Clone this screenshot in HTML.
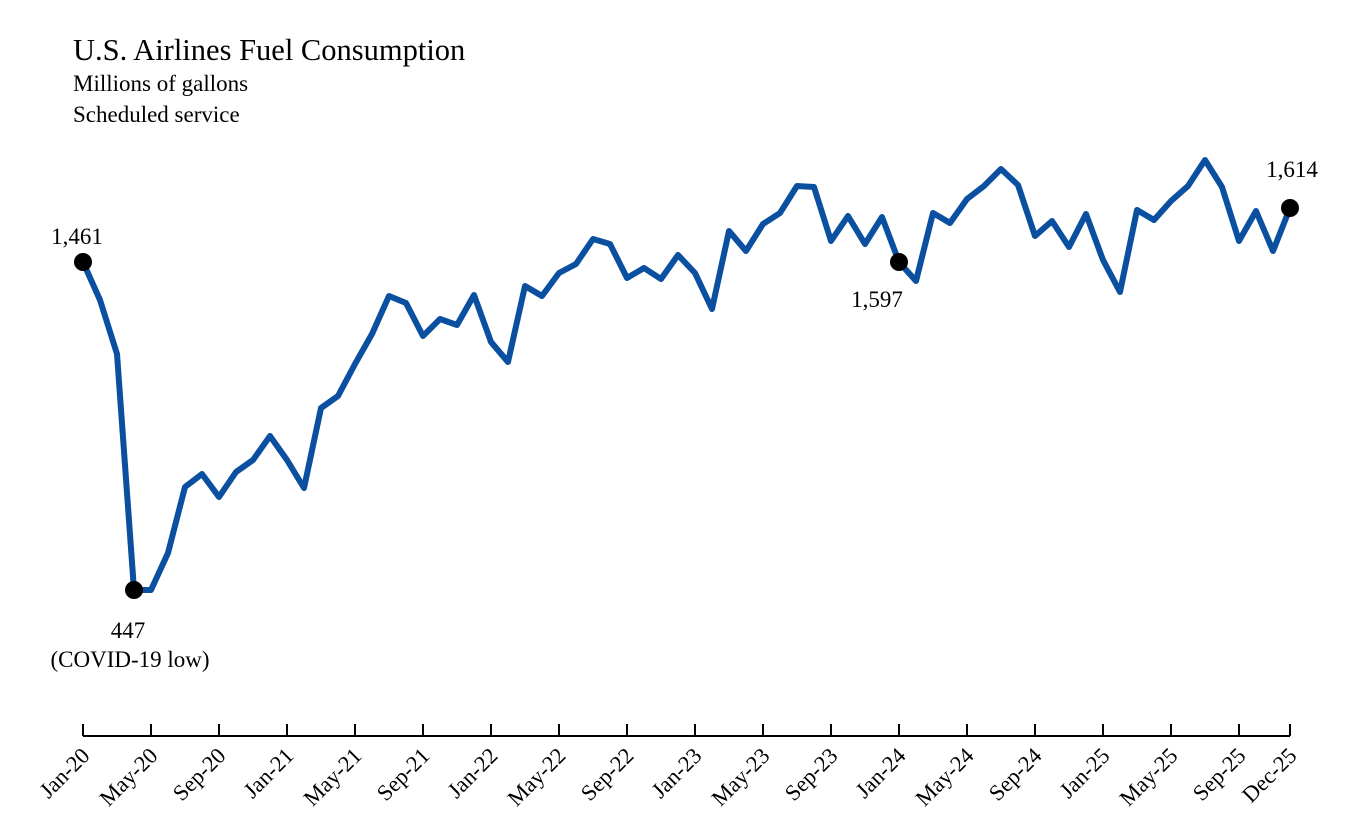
<!DOCTYPE html>
<html><head><style>
html,body{margin:0;padding:0;background:#fff;}
svg{display:block;font-family:"Liberation Serif",serif;}
</style></head><body>
<svg width="1347" height="835" viewBox="0 0 1347 835">
<text x="73" y="60" font-size="30.5">U.S. Airlines Fuel Consumption</text>
<text x="73" y="91" font-size="23">Millions of gallons</text>
<text x="73" y="122" font-size="23">Scheduled service</text>
<line x1="83" y1="736" x2="1290" y2="736" stroke="#000" stroke-width="2"/>
<g stroke="#000" stroke-width="2" id="ticks"></g>
<polyline id="ln" fill="none" stroke="#0b4fa0" stroke-width="6" stroke-linejoin="round" stroke-linecap="round"/>
<g id="lab" font-size="22.5"></g>
<circle cx="83" cy="262" r="9" fill="#000"/>
<circle cx="134" cy="590" r="9" fill="#000"/>
<circle cx="899" cy="262" r="9" fill="#000"/>
<circle cx="1290" cy="208" r="9" fill="#000"/>
<text x="77" y="244" font-size="23" text-anchor="middle">1,461</text>
<text x="128" y="638" font-size="23" text-anchor="middle">447</text>
<text x="130" y="667" font-size="23" text-anchor="middle">(COVID-19 low)</text>
<text x="877" y="307" font-size="23" text-anchor="middle">1,597</text>
<text x="1292" y="177" font-size="23" text-anchor="middle">1,614</text>
</svg>
<script>
var y=[262,300,354,590,590,553,487,474,497,472,460,436,460,488,408,396,364,334,296,303,336,319,325,295,342,362,286,296,273,264,239,244,278,268,279,255,273,309,231,251,224,213,186,187,241,216,244,217,262,281,213,223,199,186,169,185,236,221,247,214,260,292,210,220,201,186,160,187,241,211,251,208];
var s=(1290-83)/71,p=[];
for(var i=0;i<y.length;i++)p.push((83+i*s).toFixed(1)+","+y[i]);
document.getElementById("ln").setAttribute("points",p.join(" "));
var ns="http://www.w3.org/2000/svg",t=document.getElementById("ticks"),l=document.getElementById("lab");
var names=["Jan-20","May-20","Sep-20","Jan-21","May-21","Sep-21","Jan-22","May-22","Sep-22","Jan-23","May-23","Sep-23","Jan-24","May-24","Sep-24","Jan-25","May-25","Sep-25"];
function add(x,n){var ln=document.createElementNS(ns,"line");ln.setAttribute("x1",x);ln.setAttribute("x2",x);ln.setAttribute("y1",724);ln.setAttribute("y2",736);t.appendChild(ln);
var tx=document.createElementNS(ns,"text");tx.setAttribute("text-anchor","end");tx.setAttribute("transform","translate("+(x+8)+",757) rotate(-45)");tx.textContent=n;l.appendChild(tx);}
for(var k=0;k<names.length;k++)add(83+k*4*s,names[k]);
add(1290,"Dec-25");
</script>
</body></html>
